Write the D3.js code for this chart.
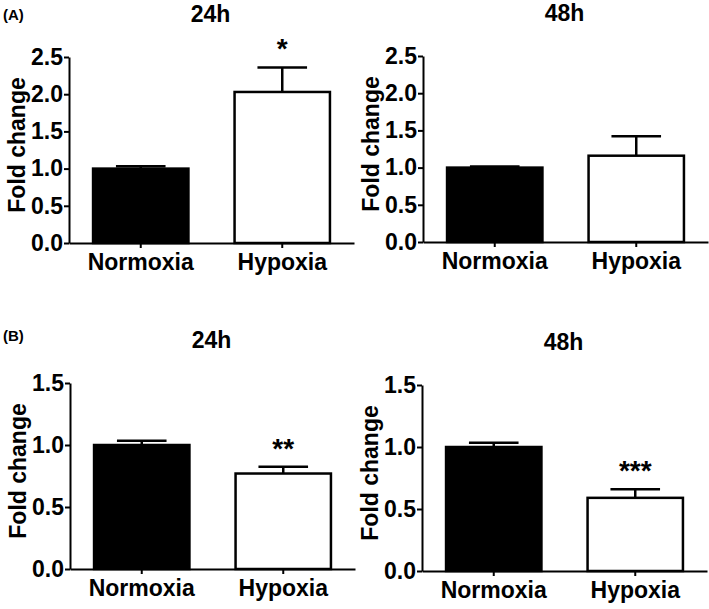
<!DOCTYPE html>
<html>
<head>
<meta charset="utf-8">
<script src="https://cdn.jsdelivr.net/npm/d3@7"></script>
<style>
  html, body { margin: 0; padding: 0; background: #fff; }
  svg text { font-family: "Liberation Sans", Arial, Helvetica, sans-serif; font-weight: bold; fill: #000; }
</style>
</head>
<body>
<svg id="chart" width="709" height="609"></svg>
<script>
// ---- data ----
const categories = ["Normoxia", "Hypoxia"];
const panelLetters = ["(A)", "(B)"];
const timeTitles = ["24h", "48h"];
const yLabel = "Fold change";

const ticksA = [0, 0.5, 1.0, 1.5, 2.0, 2.5];
const ticksB = [0, 0.5, 1.0, 1.5];

const meanA24 = [1.00, 2.03];
const errA24  = [0.03, 0.33];
const sigA24  = ["", "*"];

const meanA48 = [1.00, 1.16];
const errA48  = [0.015, 0.26];
const sigA48  = ["", ""];

const meanB24 = [1.00, 0.77];
const errB24  = [0.035, 0.055];
const sigB24  = ["", "**"];

const meanB48 = [1.00, 0.59];
const errB48  = [0.035, 0.07];
const sigB48  = ["", "***"];

// ---- layout ----
const svg = d3.select("#chart");
const FONT = 23;

const panels = [
  { x0: 69,  yBottom: 243, yTop: 57,  ticks: ticksA, mean: meanA24, err: errA24, sig: sigA24, title: timeTitles[0] },
  { x0: 423, yBottom: 242, yTop: 56,  ticks: ticksA, mean: meanA48, err: errA48, sig: sigA48, title: timeTitles[1] },
  { x0: 70,  yBottom: 569, yTop: 383, ticks: ticksB, mean: meanB24, err: errB24, sig: sigB24, title: timeTitles[0] },
  { x0: 422, yBottom: 571, yTop: 385, ticks: ticksB, mean: meanB48, err: errB48, sig: sigB48, title: timeTitles[1] }
];

// panel letters
svg.append("text").attr("x", 3).attr("y", 20).attr("font-size", 15).text(panelLetters[0]);
svg.append("text").attr("x", 3).attr("y", 341).attr("font-size", 15).text(panelLetters[1]);

panels.forEach(p => {
  const g = svg.append("g");
  const axisW = 285;
  const x = d3.scaleBand().domain(categories)
    .range([p.x0, p.x0 + axisW]).paddingInner(0.326).paddingOuter(0.17);
  const yMax = p.ticks[p.ticks.length - 1];
  const y = d3.scaleLinear().domain([0, yMax]).range([p.yBottom, p.yTop]);

  // bars
  g.selectAll("rect.bar").data(categories).join("rect")
    .attr("class", "bar")
    .attr("x", d => x(d))
    .attr("y", (d, i) => y(p.mean[i]))
    .attr("width", x.bandwidth())
    .attr("height", (d, i) => y(0) - y(p.mean[i]))
    .attr("fill", (d, i) => i === 0 ? "#000" : "#fff")
    .attr("stroke", "#000")
    .attr("stroke-width", 2.5);

  // error bars (upper only)
  const capHalf = x.bandwidth() * 0.26;
  categories.forEach((c, i) => {
    const cx = x(c) + x.bandwidth() / 2;
    const top = y(p.mean[i] + p.err[i]);
    g.append("line").attr("x1", cx).attr("x2", cx)
      .attr("y1", y(p.mean[i])).attr("y2", top)
      .attr("stroke", "#000").attr("stroke-width", 2.5);
    g.append("line").attr("x1", cx - capHalf).attr("x2", cx + capHalf)
      .attr("y1", top).attr("y2", top)
      .attr("stroke", "#000").attr("stroke-width", 2.5);
    if (p.sig[i]) {
      g.append("text").attr("x", cx).attr("y", top - 9)
        .attr("text-anchor", "middle").attr("font-size", 28)
        .text(p.sig[i]);
    }
  });

  // y axis
  const yAxis = d3.axisLeft(y).tickValues(p.ticks).tickFormat(d3.format(".1f"))
    .tickSize(5).tickPadding(1).tickSizeOuter(0);
  const ya = g.append("g").attr("transform", `translate(${p.x0},0)`).call(yAxis);
  ya.select(".domain").attr("stroke-width", 2);
  ya.selectAll(".tick line").attr("stroke-width", 2);
  ya.selectAll("text").attr("font-size", FONT).attr("font-family", null).attr("fill", "#000");

  // x axis
  const xAxis = d3.axisBottom(x).tickSize(5).tickPadding(6).tickSizeOuter(0);
  const xa = g.append("g").attr("transform", `translate(0,${p.yBottom})`).call(xAxis);
  xa.select(".domain").attr("stroke-width", 2);
  xa.selectAll(".tick line").attr("stroke-width", 2);
  xa.selectAll("text").attr("font-size", FONT).attr("font-family", null).attr("fill", "#000");

  // y label
  const cy = (p.yBottom + p.yTop) / 2 - 5;
  g.append("text")
    .attr("transform", `translate(${p.x0 - 52},${cy}) rotate(-90)`)
    .attr("dy", "0.35em")
    .attr("text-anchor", "middle").attr("font-size", FONT)
    .text(yLabel);

  // title
  g.append("text").attr("x", p.x0 + axisW / 2 - 1).attr("y", p.yTop - 35)
    .attr("text-anchor", "middle").attr("font-size", FONT)
    .text(p.title);
});
</script>
</body>
</html>
